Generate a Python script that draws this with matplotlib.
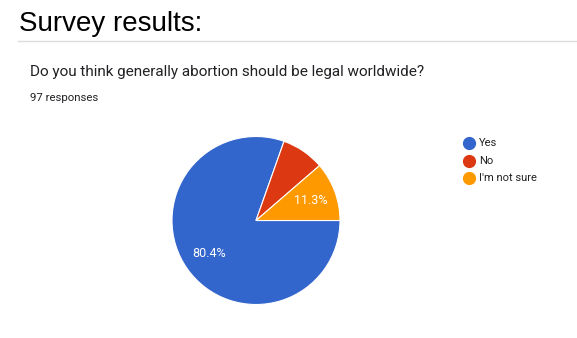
#!/usr/bin/env python3

import matplotlib

matplotlib.use("Agg")

import matplotlib.pyplot as plt
from matplotlib.lines import Line2D


OUTPUT_PNG = "out.png"

FIG_W = 577
FIG_H = 338
DPI = 100

PAGE_TITLE = "Survey results:"
QUESTION = "Do you think generally abortion should be legal worldwide?"
RESPONSES = "97 responses"

ANSWERS = ["Yes", "No", "I'm not sure"]
COUNTS = [78, 8, 11]
COLORS = ["#3366cc", "#dc3912", "#ff9900"]


def px(x, y):
    # pixel coords measured from the top-left corner -> figure fraction
    return x / FIG_W, 1 - y / FIG_H


def pct_label(value):
    if value < 10:
        return ""
    return f"{value:.1f}%"


def create_plot():
    figure = plt.figure(
        figsize=(FIG_W / DPI, FIG_H / DPI),
        dpi=DPI,
    )

    figure.text(
        *px(19, 31),
        PAGE_TITLE,
        fontsize=20,
        family="Liberation Sans",
        color="black",
        va="baseline",
        ha="left",
    )

    figure.add_artist(
        Line2D(
            [18 / FIG_W, 1.0],
            [1 - 40.5 / FIG_H, 1 - 40.5 / FIG_H],
            color="#dadce0",
            linewidth=1,
            transform=figure.transFigure,
        )
    )

    figure.text(
        *px(30, 76),
        QUESTION,
        fontsize=11,
        family="Roboto",
        color="#202124",
        va="baseline",
    )

    figure.text(
        *px(30, 101),
        RESPONSES,
        fontsize=8.2,
        family="Roboto",
        color="#202124",
        va="baseline",
    )

    cx, cy, radius = 256, 220.5, 84
    axis = figure.add_axes(
        [
            (cx - radius) / FIG_W,
            (FIG_H - cy - radius) / FIG_H,
            2 * radius / FIG_W,
            2 * radius / FIG_H,
        ]
    )

    wedges, texts, autotexts = axis.pie(
        COUNTS,
        colors=COLORS,
        startangle=0,
        counterclock=False,
        autopct=pct_label,
        pctdistance=0.69,
        wedgeprops={
            "edgecolor": "white",
            "linewidth": 0.8,
        },
        textprops={
            "color": "white",
            "fontsize": 9,
            "family": "Roboto",
        },
    )

    axis.set_xlim(-1, 1)
    axis.set_ylim(-1, 1)
    axis.set_aspect("equal")
    axis.axis("off")

    legend_x = 469
    legend_y = [143, 160.5, 178]

    for answer, color, y in zip(ANSWERS, COLORS, legend_y):
        figure.add_artist(
            Line2D(
                [legend_x / FIG_W],
                [1 - y / FIG_H],
                marker="o",
                markersize=8.5,
                markerfacecolor=color,
                markeredgecolor=color,
                linestyle="none",
                transform=figure.transFigure,
            )
        )
        figure.text(
            *px(479, y),
            answer,
            fontsize=8,
            family="Roboto",
            color="#222222",
            va="center",
        )

    figure.savefig(OUTPUT_PNG, dpi=DPI, facecolor="white")
    plt.close(figure)


if __name__ == "__main__":
    create_plot()
